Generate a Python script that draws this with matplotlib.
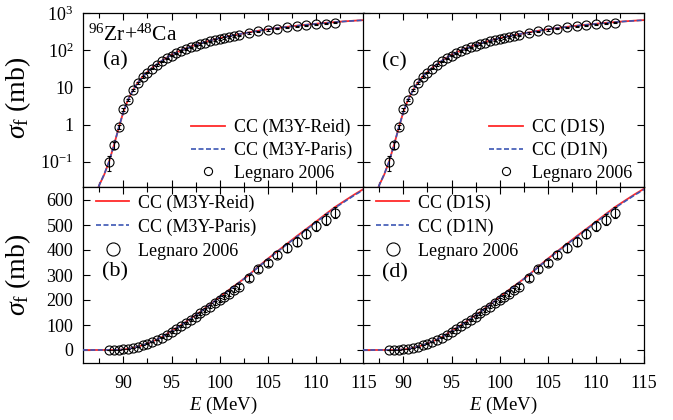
import numpy as np
import matplotlib
matplotlib.use("Agg")
import matplotlib.pyplot as plt
from matplotlib.ticker import MultipleLocator, FixedLocator, FixedFormatter

plt.rcParams['font.family'] = ['Liberation Serif', 'DejaVu Serif']
plt.rcParams['mathtext.fontset'] = 'custom'
plt.rcParams['mathtext.rm'] = 'Liberation Serif'
plt.rcParams['mathtext.it'] = 'Liberation Serif:italic'

# Legnaro 2006 data, 96Zr+48Ca
e_exp = [88.5, 89.0, 89.5, 90.0, 90.5, 91.0, 91.5, 92.0, 92.5, 93.0, 93.5, 94.0,
         94.5, 95.0, 95.5, 96.0, 96.5, 97.0, 97.5, 98.0, 98.5, 99.0, 99.5, 100.0,
         100.5, 101.0, 101.5, 102.0, 103.0, 104.0, 105.0, 106.0, 107.0, 108.0,
         109.0, 110.0, 111.0, 112.0]
sig_exp = [0.1, 0.28, 0.85, 2.6, 4.6, 8.5, 13, 19, 25, 32, 40, 50,
           60, 72, 83, 95, 108, 120, 133, 147, 160, 173, 187, 200,
           213, 226, 240, 254, 288, 323, 348, 382, 410, 434,
           466, 495, 522, 550]
err_rel = [0.45, 0.2, 0.12, 0.08, 0.07, 0.06, 0.05, 0.05, 0.05, 0.04, 0.04, 0.04,
           0.04, 0.04, 0.04, 0.04, 0.04, 0.04, 0.04, 0.04, 0.04, 0.04, 0.04, 0.04,
           0.04, 0.04, 0.04, 0.04, 0.04, 0.04, 0.04, 0.04, 0.04, 0.04,
           0.04, 0.04, 0.04, 0.04]

# coupled-channels calculations
e_cc = [85.0, 86.0, 86.5, 87.0, 87.5, 88.0, 88.5, 89.0, 89.5, 90.0, 90.5, 91.0,
        91.5, 92.0, 92.5, 93.0, 93.5, 94.0, 95.0, 96.0, 97.0, 98.0, 99.0, 100.0,
        101.0, 102.0, 103.0, 104.0, 105.0, 106.0, 107.0, 108.0, 109.0, 110.0,
        111.0, 112.0, 113.0, 114.0, 115.0]
sig_reid = [1e-4, 0.002, 0.005, 0.011, 0.024, 0.045, 0.10, 0.27, 0.8, 2.2, 4.8, 8.5,
            13.5, 19.5, 26, 34, 42, 52, 76, 100, 126, 153, 182, 212,
            241, 270, 299, 333, 365, 395, 425, 455, 484, 513,
            543, 572, 597, 622, 645]
sig_paris = [1e-4, 0.002, 0.005, 0.011, 0.024, 0.046, 0.10, 0.27, 0.8, 2.2, 4.8, 8.4,
             13.4, 19.4, 26, 34, 42, 52, 75, 99, 125, 152, 181, 211,
             240, 269, 298, 331, 363, 393, 423, 452, 481, 510,
             540, 569, 594, 619, 642]
sig_d1s = sig_reid
sig_d1n = sig_paris

red = '#ff2a2a'
blue = '#3c56b4'

fig = plt.figure(figsize=(6.73, 4.20), dpi=100)
W = 281 / 673.
axs = {}
axs['a'] = fig.add_axes([83 / 673., 1 - 187 / 420., W, 174 / 420.])
axs['c'] = fig.add_axes([363 / 673., 1 - 187 / 420., W, 174 / 420.])
axs['b'] = fig.add_axes([83 / 673., 1 - 363 / 420., W, 176 / 420.])
axs['d'] = fig.add_axes([363 / 673., 1 - 363 / 420., W, 176 / 420.])

names = {'a': ('CC (M3Y-Reid)', 'CC (M3Y-Paris)', sig_reid, sig_paris),
         'b': ('CC (M3Y-Reid)', 'CC (M3Y-Paris)', sig_reid, sig_paris),
         'c': ('CC (D1S)', 'CC (D1N)', sig_d1s, sig_d1n),
         'd': ('CC (D1S)', 'CC (D1N)', sig_d1s, sig_d1n)}

yerr = np.array(sig_exp) * np.array(err_rel)

for key, ax in axs.items():
    l1, l2, s1, s2 = names[key]
    ax.plot(e_cc, s1, color=red, lw=1.3, label=l1, zorder=2)
    ax.plot(e_cc, s2, color=blue, lw=1.2, ls=(0, (3, 1.5)), label=l2, zorder=3)
    ax.errorbar(e_exp, sig_exp, yerr=yerr, fmt='none', ecolor='black',
                elinewidth=0.8, capsize=1.5, capthick=0.8, zorder=4)
    ax.plot(e_exp, sig_exp, 'o', ms=6.5, mfc='none', mec='black', mew=0.8,
            label='Legnaro 2006', zorder=5)
    ax.set_xlim(85.8, 115)
    ax.xaxis.set_major_locator(MultipleLocator(5))
    ax.xaxis.set_minor_locator(MultipleLocator(2.5))
    ax.tick_params(which='both', direction='in', top=True, right=True, labelsize=13)
    ax.tick_params(which='major', length=5, width=0.8, pad=7)
    ax.tick_params(axis='x', which='major', pad=9)
    ax.tick_params(which='minor', length=3.5, width=0.8)
    for sp in ax.spines.values():
        sp.set_linewidth(0.9)

    if key in ('a', 'c'):
        ax.set_yscale('log')
        ax.set_ylim(0.021, 1000)
        ax.yaxis.set_major_locator(FixedLocator([0.1, 1, 10, 100, 1000]))
        ax.yaxis.set_major_formatter(FixedFormatter([r'$10^{-1}$', '1', '10', r'$10^{2}$', r'$10^{3}$']))
        ax.yaxis.set_minor_locator(FixedLocator([]))
        ax.tick_params(labelbottom=False)
        ax.legend(loc='lower right', frameon=False, fontsize=13, handlelength=1.9,
                  handletextpad=0.5, labelspacing=0.3, borderaxespad=0.0,
                  markerscale=0.9, bbox_to_anchor=(0.985, -0.01))
    else:
        ax.set_ylim(-52, 652)
        ax.yaxis.set_major_locator(MultipleLocator(100))
        ax.set_xlabel(r'$E$ (MeV)', fontsize=13.5, labelpad=2)
        ax.legend(loc='upper left', frameon=False, fontsize=13, handlelength=1.85,
                  handletextpad=0.5, labelspacing=0.38, borderaxespad=0.0,
                  markerscale=1.45, bbox_to_anchor=(0.02, 1.0))
    if key in ('c', 'd'):
        ax.tick_params(labelleft=False)

axs['a'].set_ylabel(r'$\sigma_{\rm f}$ (mb)', fontsize=20)
axs['b'].set_ylabel(r'$\sigma_{\rm f}$ (mb)', fontsize=20)
axs['a'].yaxis.set_label_coords(-0.178, 0.51)
axs['b'].yaxis.set_label_coords(-0.178, 0.5)

axs['a'].text(0.018, 0.87, r'$^{96}$Zr+$^{48}$Ca', transform=axs['a'].transAxes,
              fontsize=15.5, va='center', ha='left')
axs['a'].text(0.114, 0.724, '(a)', transform=axs['a'].transAxes, fontsize=16,
              va='center', ha='center')
axs['c'].text(0.113, 0.718, '(c)', transform=axs['c'].transAxes, fontsize=16,
              va='center', ha='center')
axs['b'].text(0.114, 0.517, '(b)', transform=axs['b'].transAxes, fontsize=16,
              va='center', ha='center')
axs['d'].text(0.113, 0.51, '(d)', transform=axs['d'].transAxes, fontsize=16,
              va='center', ha='center')

fig.savefig('out.png', dpi=100)
